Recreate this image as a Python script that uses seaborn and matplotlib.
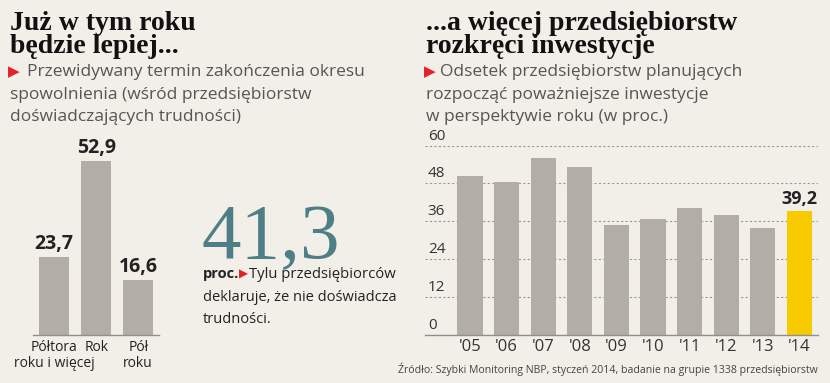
import numpy as np
import pandas as pd
import matplotlib.pyplot as plt
import seaborn as sns

# lewy wykres - termin zakonczenia spowolnienia
okres_labels = ["Półtora\nroku i więcej", "Rok", "Pół\nroku"]
okres_values = [23.7, 52.9, 16.6]

# prawy wykres - odsetek planujacych inwestycje
years = ["'05", "'06", "'07", "'08", "'09", "'10", "'11", "'12", "'13", "'14"]
invest_values = [50.5, 48.5, 56.0, 53.3, 34.7, 36.7, 40.3, 38.1, 34.0, 39.2]
y_ticks = [0, 12, 24, 36, 48, 60]
big_number = "41,3"

bg = "#f2efe9"
grey_bar = "#b2aea6"
yellow = "#f7cb00"
red = "#e3202b"
teal = "#4e7f87"
dark = "#222222"
sub = "#555555"

sns.set_theme(style="white")
plt.rcParams["font.family"] = ["Open Sans", "DejaVu Sans"]

W, H = 830, 383
fig = plt.figure(figsize=(W / 100, H / 100), dpi=100)
fig.patch.set_facecolor(bg)


def fx(x):
    return x / W


def fy(y):
    return 1 - y / H


def comma(v):
    return f"{v:.1f}".replace(".", ",")


serif = ["Liberation Serif", "DejaVu Serif"]
title_size = 20
sub_size = 12.5

# ---------------------------------------------------------------
# lewa czesc
fig.text(fx(10), fy(30), "Już w tym roku", fontsize=title_size, family=serif,
         fontweight="bold", color="#111111", va="baseline")
fig.text(fx(10), fy(53), "będzie lepiej...", fontsize=title_size, family=serif,
         fontweight="bold", color="#111111", va="baseline")
fig.text(fx(8), fy(76), "▶", fontsize=11, family="DejaVu Sans", color=red, va="baseline")
fig.text(fx(27), fy(76), "Przewidywany termin zakończenia okresu", fontsize=sub_size,
         color=sub, va="baseline")
fig.text(fx(10), fy(99), "spowolnienia (wśród przedsiębiorstw", fontsize=sub_size,
         color=sub, va="baseline")
fig.text(fx(10), fy(121), "doświadczających trudności)", fontsize=sub_size,
         color=sub, va="baseline")

ax1 = fig.add_axes([fx(33), 48.3 / H, 126.3 / W, 196.8 / H])
ax1.set_facecolor(bg)
sns.barplot(x=okres_labels, y=okres_values, color=grey_bar, width=0.71,
            saturation=1, linewidth=0, ax=ax1)
ax1.set_xlim(-0.5, 2.5)
ax1.set_ylim(0, 60)
ax1.bar_label(ax1.containers[0], labels=[comma(v) for v in okres_values],
              fontsize=14, fontweight="bold", color=dark, padding=2)
for s in ["top", "left", "right"]:
    ax1.spines[s].set_visible(False)
ax1.spines["bottom"].set_color("#8f8f8f")
ax1.spines["bottom"].set_linewidth(1)
ax1.set_yticks([])
ax1.set_xlabel("")
ax1.set_ylabel("")
ax1.tick_params(axis="x", length=0, pad=4, labelsize=10, labelcolor=dark)
for lab in ax1.get_xticklabels():
    lab.set_linespacing(1.1)

# duza liczba
fig.text(fx(201), fy(258), big_number, fontsize=57, family=serif, color=teal,
         va="baseline")
fig.text(fx(203), fy(278), "proc.", fontsize=10.5, fontweight="bold", color=dark,
         va="baseline")
fig.text(fx(239), fy(278), "▶", fontsize=8.5, family="DejaVu Sans", color=red,
         va="baseline")
fig.text(fx(249), fy(278), "Tylu przedsiębiorców", fontsize=10.7, color=dark,
         va="baseline")
fig.text(fx(203), fy(301), "deklaruje, że nie doświadcza", fontsize=10.5,
         color=dark, va="baseline")
fig.text(fx(203), fy(323), "trudności.", fontsize=10.5, color=dark, va="baseline")

# ---------------------------------------------------------------
# prawa czesc
fig.text(fx(426), fy(30), "...a więcej przedsiębiorstw", fontsize=title_size, family=serif,
         fontweight="bold", color="#111111", va="baseline")
fig.text(fx(426), fy(53), "rozkręci inwestycje", fontsize=title_size, family=serif,
         fontweight="bold", color="#111111", va="baseline")
fig.text(fx(424), fy(76), "▶", fontsize=11, family="DejaVu Sans", color=red, va="baseline")
fig.text(fx(440), fy(76), "Odsetek przedsiębiorstw planujących", fontsize=sub_size,
         color=sub, va="baseline")
fig.text(fx(426), fy(99), "rozpocząć poważniejsze inwestycje", fontsize=sub_size,
         color=sub, va="baseline")
fig.text(fx(426), fy(121), "w perspektywie roku (w proc.)", fontsize=sub_size,
         color=sub, va="baseline")

ax2 = fig.add_axes([fx(425), 48.3 / H, 393 / W, 190.6 / H])
ax2.set_facecolor(bg)
bar_colors = [grey_bar] * (len(years) - 1) + [yellow]
sns.barplot(x=years, y=invest_values, hue=years, palette=bar_colors, legend=False,
            width=0.69, saturation=1, linewidth=0, ax=ax2)
ax2.set_xlim(-1.23, 9.51)
ax2.set_ylim(0, 60.5)
ax2.set_yticks(y_ticks)
ax2.yaxis.grid(True, color="#9a9a9a", linestyle=(0, (2, 2)), linewidth=0.8)
ax2.set_axisbelow(True)
ax2.tick_params(axis="y", labelleft=False, length=0)
ax2.tick_params(axis="x", length=0, pad=3, labelsize=12, labelcolor="#333333")
for t in y_ticks:
    ax2.annotate(str(t), xy=(0, t), xycoords=("axes fraction", "data"),
                 xytext=(2, 1.5), textcoords="offset points", ha="left",
                 va="bottom", fontsize=11, color="#333333")
for s in ["top", "left", "right"]:
    ax2.spines[s].set_visible(False)
ax2.spines["bottom"].set_color("#8f8f8f")
ax2.spines["bottom"].set_linewidth(1)
ax2.set_xlabel("")
ax2.set_ylabel("")
ax2.bar_label(ax2.containers[-1], labels=[comma(invest_values[-1])], fontsize=13,
              fontweight="bold", color=dark, padding=2)

fig.text(fx(818), fy(369),
         "Źródło: Szybki Monitoring NBP, styczeń 2014, badanie na grupie 1338 przedsiębiorstw",
         fontsize=7.6, color="#444444", ha="right", va="center")

plt.savefig("out.png", dpi=100, facecolor=bg)
